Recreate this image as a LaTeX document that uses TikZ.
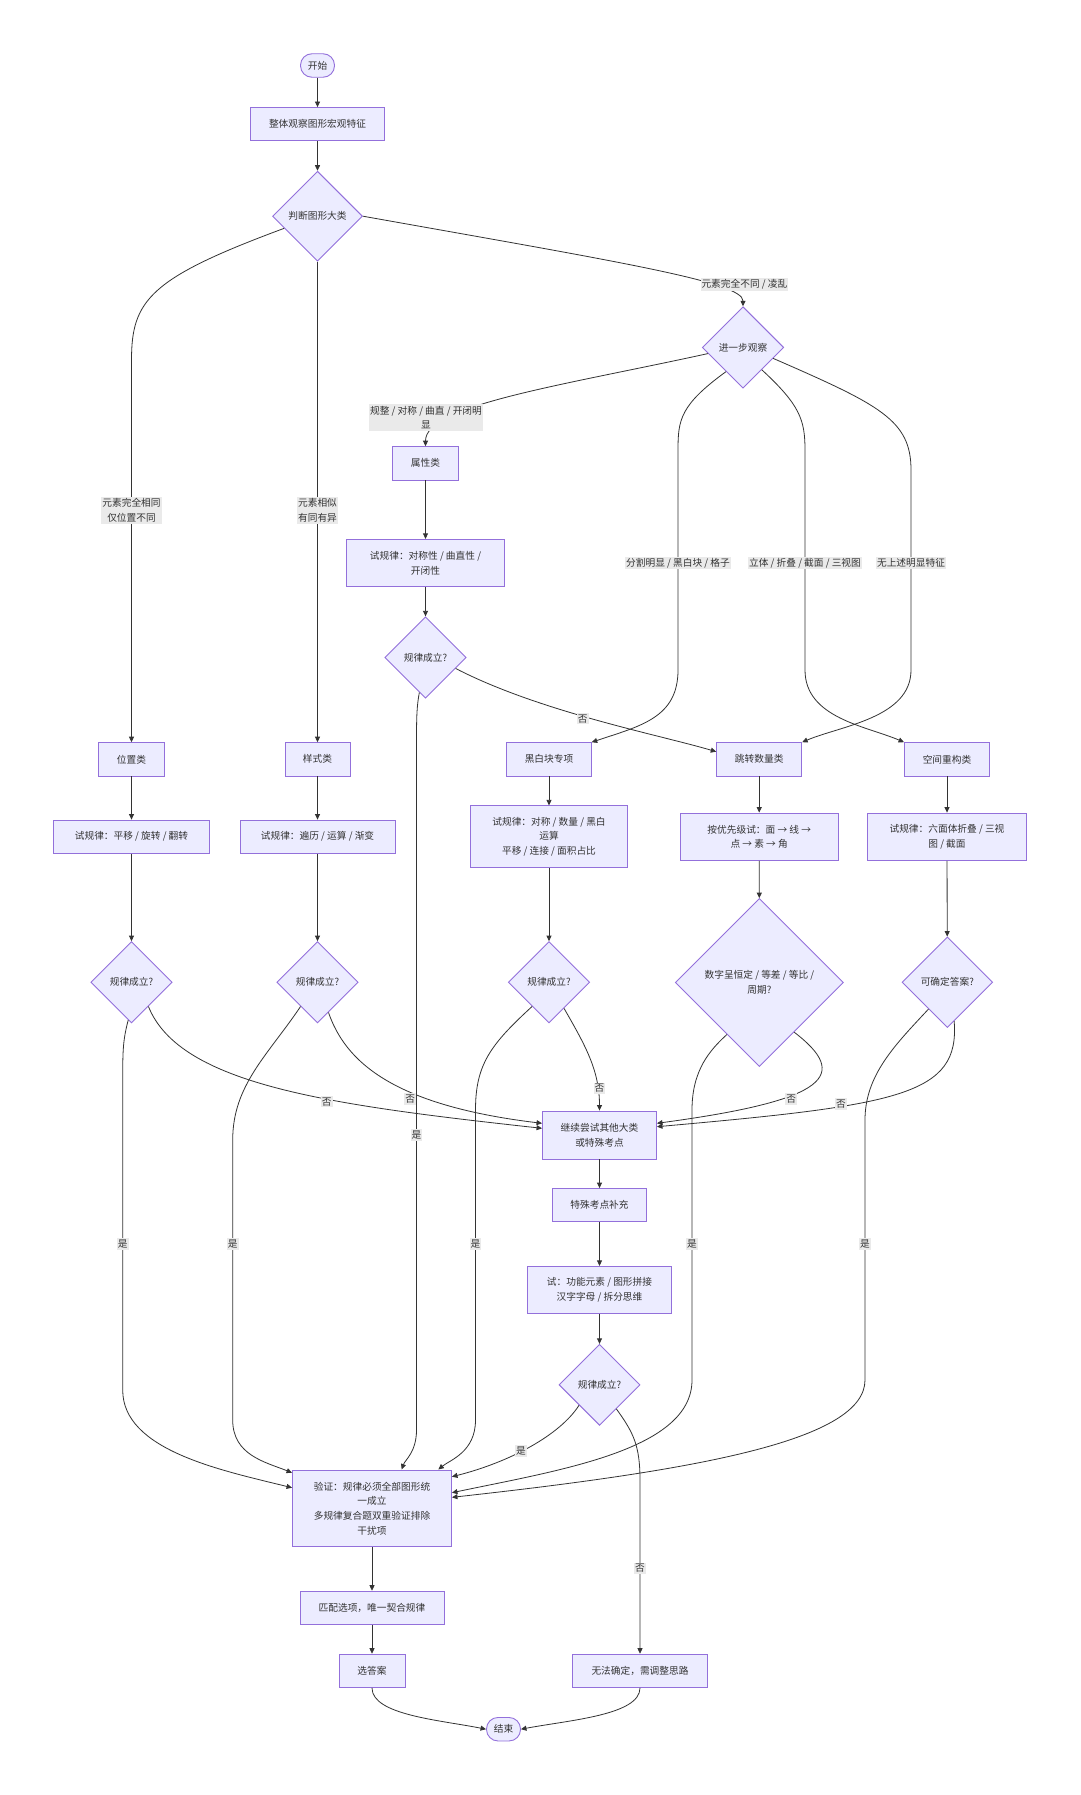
\documentclass[tikz,border=0pt]{standalone}
\usepackage{fontspec}
\setmainfont{Noto Sans CJK SC}
\usetikzlibrary{shapes.geometric,arrows.meta}
\definecolor{nodefill}{HTML}{ECECFF}
\definecolor{nodeline}{HTML}{9370DB}
\definecolor{linkgray}{HTML}{333333}
\definecolor{textgray}{HTML}{333333}
\definecolor{labelbg}{HTML}{EAEAEA}
\tikzset{
  box/.style={draw=nodeline, fill=nodefill, line width=0.9pt, align=center, inner sep=2pt,
    minimum height=33.3pt, text=textgray, font=\fontsize{9.7}{14.7}\selectfont},
  decision/.style={diamond, aspect=1, draw=nodeline, fill=nodefill, line width=0.9pt, align=center,
    inner sep=0pt, text=textgray, font=\fontsize{9.7}{14.7}\selectfont},
  term/.style={box, rounded corners=11.5pt, minimum width=34pt, minimum height=23.5pt, inner sep=1pt},
  flow/.style={draw=linkgray, line width=0.8pt, -{Triangle[length=5.5pt,width=5pt]}},
  lbl/.style={fill=labelbg, text=textgray, align=center, inner xsep=1pt, inner ysep=1.5pt,
    font=\fontsize{9.7}{14.7}\selectfont}
}
\begin{document}
\begin{tikzpicture}[x=1pt,y=-1pt]
\fill[white] (0,0) rectangle (1080,1795);
\useasboundingbox (0,0) rectangle (1080,1795);

\node[term] (start) at (317.5,65.5) {开始};
\node[box, minimum width=134pt] (observe) at (317.5,124.2) {整体观察图形宏观特征};
\node[decision, minimum size=90pt] (judge) at (317.5,216.2) {判断图形大类};
\node[decision, minimum size=81.4pt] (further) at (743,347.4) {进一步观察};
\node[box, minimum width=65.7pt] (attr) at (425.5,463.3) {属性类};
\node[box, minimum width=157.7pt, minimum height=47.3pt] (attrtry) at (425.5,563) {试规律：对称性 / 曲直性 /\\开闭性};
\node[decision, minimum size=81.4pt] (attrq) at (425.5,657.5) {规律成立?};
\node[box, minimum width=66pt] (pos) at (131.5,759.3) {位置类};
\node[box, minimum width=65pt] (style) at (317.5,759.3) {样式类};
\node[box, minimum width=84.5pt] (bw) at (549,759.3) {黑白块专项};
\node[box, minimum width=85pt] (num) at (759.2,759.3) {跳转数量类};
\node[box, minimum width=85pt] (space) at (947,759.3) {空间重构类};
\node[box, minimum width=156pt] (postry) at (131.5,836.7) {试规律：平移 / 旋转 / 翻转};
\node[box, minimum width=155pt] (styletry) at (317.5,836.7) {试规律：遍历 / 运算 / 渐变};
\node[box, minimum width=157.7pt, minimum height=61.7pt] (bwtry) at (549,836.7) {试规律：对称 / 数量 / 黑白\\运算\\平移 / 连接 / 面积占比};
\node[box, minimum width=158.4pt, minimum height=47.3pt] (numtry) at (759.2,836.7) {按优先级试：面 → 线 →\\点 → 素 → 角};
\node[box, minimum width=158.4pt, minimum height=47.3pt] (spacetry) at (947,836.7) {试规律：六面体折叠 / 三视\\图 / 截面};
\node[decision, minimum size=81.4pt] (posq) at (131.5,982.3) {规律成立?};
\node[decision, minimum size=81.4pt] (styleq) at (317.5,982.3) {规律成立?};
\node[decision, minimum size=81.4pt] (bwq) at (549,982.3) {规律成立?};
\node[decision, minimum size=168pt] (numq) at (759.4,982.5) {数字呈恒定 / 等差 / 等比 /\\周期?};
\node[decision, minimum size=90.6pt] (spaceq) at (947.3,982.2) {可确定答案?};
\node[box, minimum width=114pt, minimum height=48pt] (cont) at (599.5,1135) {继续尝试其他大类\\或特殊考点};
\node[box, minimum width=94.7pt] (special) at (599.5,1205.2) {特殊考点补充};
\node[box, minimum width=144.4pt, minimum height=47.3pt] (spectry) at (599.5,1290) {试：功能元素 / 图形拼接\\汉字字母 / 拆分思维};
\node[decision, minimum size=81pt] (specq) at (599.5,1384.8) {规律成立?};
\node[box, minimum width=159pt, minimum height=76.7pt] (verify) at (372,1508.3) {验证：规律必须全部图形统\\一成立\\多规律复合题双重验证排除\\干扰项};
\node[box, minimum width=144pt] (match) at (372,1607.8) {匹配选项，唯一契合规律};
\node[box, minimum width=66pt] (choose) at (372,1670.8) {选答案};
\node[box, minimum width=134.3pt] (fail) at (640,1670.8) {无法确定，需调整思路};
\node[term] (finish) at (503.5,1729.2) {结束};

\draw[flow] (start) -- (observe);
\draw[flow] (observe) -- (judge);
\draw[flow] (judge.east) .. controls (620,262) and (743,282) .. (further.north);
\draw[flow] (judge.200) .. controls (150,278) and (131.5,300) .. (131.5,360) -- (pos.north);
\draw[flow] (judge) -- (style);
\draw[flow] (further.190) .. controls (560,386) and (425.5,405) .. (attr.north);
\draw[flow] (further.235) .. controls (680,405) and (678,420) .. (678,450) -- (678,670) .. controls (678,718) and (640,726) .. (bw.north east);
\draw[flow] (further.310) .. controls (800,405) and (805,420) .. (805,450) -- (805,670) .. controls (805,718) and (866,726) .. (space.north west);
\draw[flow] (further.340) .. controls (880,405) and (911,420) .. (911,470) -- (911,670) .. controls (911,718) and (840,726) .. (num.north east);
\draw[flow] (attr) -- (attrtry);
\draw[flow] (attrtry) -- (attrq);
\draw[flow] (attrq.-20) .. controls (540,712) and (660,735) .. (num.170);
\draw[flow] (attrq.260) .. controls (417,705) and (416.5,715) .. (416.5,740) -- (416.5,1430) .. controls (416.5,1452) and (405,1460) .. ([xshift=29.7pt]verify.north);
\draw[flow] (pos) -- (postry);
\draw[flow] (postry) -- (posq);
\draw[flow] (style) -- (styletry);
\draw[flow] (styletry) -- (styleq);
\draw[flow] (bw) -- (bwtry);
\draw[flow] (bwtry) -- (bwq);
\draw[flow] (num) -- (numtry);
\draw[flow] (numtry) -- (numq);
\draw[flow] (space) -- (spacetry);
\draw[flow] (spacetry) -- (spaceq);
\draw[flow] (posq.265) .. controls (123,1040) and (122.7,1050) .. (122.7,1080) -- (122.7,1390) .. controls (122.7,1450) and (220,1470) .. ([yshift=20.6pt]verify.west);
\draw[flow] (posq.-55) .. controls (180,1085) and (330,1105) .. ([yshift=6.7pt]cont.west);
\draw[flow] (styleq.235) .. controls (268,1055) and (232.7,1085) .. (232.7,1140) -- (232.7,1420) .. controls (232.7,1455) and (265,1462) .. ([yshift=35.6pt]verify.west);
\draw[flow] (styleq.-70) .. controls (345,1060) and (390,1105) .. ([yshift=11.7pt]cont.west);
\draw[flow] (bwq.235) .. controls (490,1045) and (475.5,1065) .. (475.5,1110) -- (475.5,1420) .. controls (475.5,1452) and (450,1460) .. ([xshift=66.3pt]verify.north);
\draw[flow] (bwq.-60) .. controls (585,1045) and (599.5,1070) .. (cont.north);
\draw[flow] (numq.238) .. controls (710,1050) and (692,1070) .. (692,1110) -- (692,1380) .. controls (692,1450) and (560,1470) .. ([yshift=15.6pt]verify.east);
\draw[flow] (numq.-55) .. controls (850,1075) and (830,1100) .. ([yshift=11.7pt]cont.east);
\draw[flow] (spaceq.235) .. controls (895,1045) and (865,1075) .. (865,1120) -- (865,1380) .. controls (865,1440) and (700,1470) .. ([yshift=11pt]verify.east);
\draw[flow] (spaceq.-80) .. controls (960,1095) and (900,1105) .. ([yshift=8.3pt]cont.east);
\draw[flow] (cont) -- (special);
\draw[flow] (special) -- (spectry);
\draw[flow] (spectry) -- (specq);
\draw[flow] (specq.225) .. controls (560,1435) and (510,1462) .. ([yshift=31.6pt]verify.east);
\draw[flow] (specq.-55) .. controls (633,1432) and (640,1445) .. (640,1480) -- (fail.north);
\draw[flow] (verify) -- (match);
\draw[flow] (match) -- (choose);
\draw[flow] (choose.south) .. controls (372,1715) and (440,1720) .. (finish.west);
\draw[flow] (fail.south) .. controls (640,1715) and (570,1720) .. (finish.east);

\node[lbl] (lbl-mess) at (744.4,284.5) {元素完全不同 / 凌乱};
\node[lbl] (lbl-same) at (131.5,510.3) {元素完全相同\\仅位置不同};
\node[lbl] (lbl-alike) at (317.5,510.3) {元素相似\\有同有异};
\node[lbl] (lbl-attr) at (426,417.5) {规整 / 对称 / 曲直 / 开闭明\\显};
\node[lbl] (lbl-split) at (678,563) {分割明显 / 黑白块 / 格子};
\node[lbl] (lbl-solid) at (805,563) {立体 / 折叠 / 截面 / 三视图};
\node[lbl] (lbl-none) at (911,563) {无上述明显特征};
\node[lbl] (lbl-attrno) at (582.7,718.7) {否};
\node[lbl] (lbl-attryes) at (416.5,1135) {是};
\node[lbl] (lbl-posno) at (326.8,1101.7) {否};
\node[lbl] (lbl-styleno) at (410.3,1099) {否};
\node[lbl] (lbl-bwno) at (599.5,1088.3) {否};
\node[lbl] (lbl-numno) at (791.2,1099) {否};
\node[lbl] (lbl-spaceno) at (841,1104) {否};
\node[lbl] (lbl-posyes) at (122.7,1243.8) {是};
\node[lbl] (lbl-styleyes) at (232.7,1243.8) {是};
\node[lbl] (lbl-bwyes) at (475.5,1243.8) {是};
\node[lbl] (lbl-numyes) at (692,1243.8) {是};
\node[lbl] (lbl-spaceyes) at (865,1243.8) {是};
\node[lbl] (lbl-specyes) at (521,1451) {是};
\node[lbl] (lbl-specno) at (640,1568.3) {否};
\end{tikzpicture}
\end{document}
